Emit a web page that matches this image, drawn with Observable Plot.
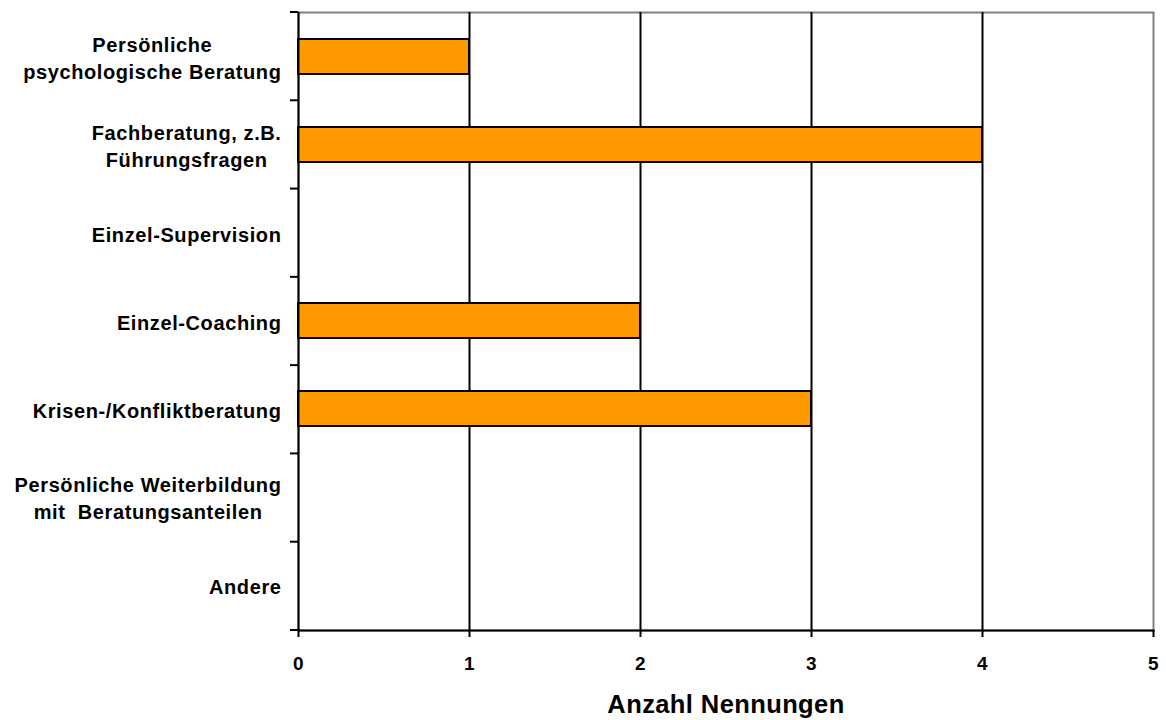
<!DOCTYPE html>
<html>
<head>
<meta charset="utf-8">
<script src="https://cdn.jsdelivr.net/npm/d3@7"></script>
<script src="https://cdn.jsdelivr.net/npm/@observablehq/plot@0.6"></script>
<style>
  body { margin: 0; background: #fff; }
  svg { font-family: "Liberation Sans", Arial, sans-serif; }
  g[aria-label="y-axis tick label"] text { letter-spacing: 0.6px; }
  g[aria-label="x-axis tick label"] text { letter-spacing: 0.3px; }
  g[aria-label="text"] text { letter-spacing: 0.4px; }
</style>
</head>
<body>
<div id="chart"></div>
<script>
const categories = [
  "Persönliche\npsychologische Beratung",
  "Fachberatung, z.B.\nFührungsfragen",
  "Einzel-Supervision",
  "Einzel-Coaching",
  "Krisen-/Konfliktberatung",
  "Persönliche Weiterbildung\nmit  Beratungsanteilen",
  "Andere"
];
const counts = [1, 4, 0, 2, 3, 0, 0];
const xTicks = [0, 1, 2, 3, 4, 5];
const gridTicks = [1, 2, 3, 4];
const axisTitle = "Anzahl Nennungen";

const data = categories.map((c, i) => ({category: c, value: counts[i]}));

const marginLeft = 298;
const plot = Plot.plot({
  width: 1166,
  height: 720,
  marginLeft,
  marginRight: 13,
  marginTop: 12,
  marginBottom: 90,
  style: {fontFamily: "'Liberation Sans', Arial, sans-serif", background: "#fff"},
  x: {domain: [0, 5]},
  y: {domain: categories, paddingInner: 0.6, paddingOuter: 0.3},
  marks: [
    Plot.frame({stroke: "#808080", strokeWidth: 2}),
    Plot.ruleX(gridTicks, {stroke: "#000", strokeWidth: 2}),
    Plot.barX(data.filter(d => d.value > 0), {x: "value", y: "category", fill: "#FF9900", stroke: "#000", strokeWidth: 2}),
    Plot.ruleX([0], {stroke: "#000", strokeWidth: 2}),
    Plot.frame({anchor: "bottom", stroke: "#000", strokeWidth: 2}),
    Plot.axisX({ticks: xTicks, tickFormat: d3.format("d"), tickSize: 7, tickPadding: 19, fontSize: 19, fontWeight: "bold", strokeWidth: 2, stroke: "#000", color: "#000", label: null}),
    Plot.axisY({tickSize: 0, tickPadding: 17, fontSize: 20, fontWeight: "bold", lineHeight: 1.36, color: "#000", label: null}),
    Plot.text([axisTitle], {frameAnchor: "bottom", dy: 82, lineAnchor: "bottom", fontSize: 25.5, fontWeight: "bold", fill: "#000"})
  ]
});
document.getElementById("chart").appendChild(plot);

// Boundary ticks on the category axis and centered multi-line labels
const svg = d3.select(plot);
const yScale = plot.scale("y");
const [r0, r1] = yScale.range;
const step = (r1 - r0) / categories.length;
const tickG = svg.append("g").attr("stroke", "#000").attr("stroke-width", 2);
for (let k = 0; k <= categories.length; k++) {
  tickG.append("line")
    .attr("x1", marginLeft - 8).attr("x2", marginLeft)
    .attr("y1", r0 + k * step).attr("y2", r0 + k * step);
}
svg.selectAll("g[aria-label='y-axis tick label'] text").each(function() {
  const tspans = this.querySelectorAll("tspan");
  if (tspans.length < 2) return;
  let maxW = 0;
  tspans.forEach(t => { maxW = Math.max(maxW, t.getComputedTextLength()); });
  this.setAttribute("text-anchor", "middle");
  tspans.forEach(t => t.setAttribute("x", -maxW / 2));
});
</script>
</body>
</html>
